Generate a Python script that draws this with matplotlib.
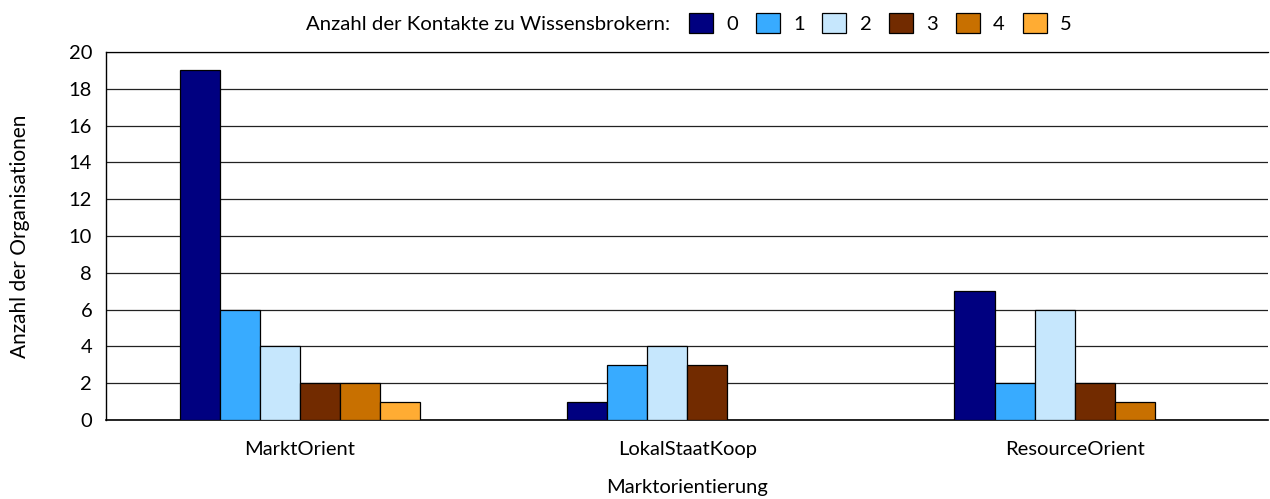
import numpy as np
import matplotlib.pyplot as plt
from matplotlib.patches import Patch

plt.rcParams['font.family'] = ['Lato', 'DejaVu Sans']

categories = ["MarktOrient", "LokalStaatKoop", "ResourceOrient"]
contact_levels = ["0", "1", "2", "3", "4", "5"]
counts = {
    "0": [19, 1, 7],
    "1": [6, 3, 2],
    "2": [4, 4, 6],
    "3": [2, 3, 2],
    "4": [2, 0, 1],
    "5": [1, 0, 0],
}
colors = ["#000080", "#38ABFF", "#C6E7FD", "#722B00", "#C87000", "#FFAC33"]

FS = 14.5

fig = plt.figure(figsize=(12.7, 4.99), dpi=100)
ax = fig.add_axes([0.0835, 0.1583, 0.9152, 0.7375])

x = np.arange(len(categories))
width = 0.1034
for i, level in enumerate(contact_levels):
    vals = np.array(counts[level])
    offs = x + (i - 2.5) * width
    mask = vals > 0
    ax.bar(offs[mask], vals[mask], width=width, color=colors[i],
           edgecolor="black", linewidth=0.9, zorder=3)

ax.set_xlim(-0.5, 2.5)
ax.set_ylim(0, 20)
ax.set_yticks(range(0, 21, 2))
ax.set_xticks(x)
ax.set_xticklabels(categories)
ax.tick_params(axis="both", length=0, labelsize=FS, colors="black")
ax.tick_params(axis="x", pad=15)
ax.tick_params(axis="y", pad=10)
ax.yaxis.grid(True, color="#222222", linewidth=0.9, zorder=0)

ax.spines["right"].set_visible(False)
ax.spines["top"].set_linewidth(0.9)
ax.spines["left"].set_linewidth(1.0)
ax.spines["bottom"].set_linewidth(1.2)

ax.set_ylabel("Anzahl der Organisationen", fontsize=15, labelpad=28)
ax.set_xlabel("Marktorientierung", fontsize=FS, labelpad=15)

# legend across the top with a leading caption
fig.text(306 / 1270, 1 - 24 / 499, "Anzahl der Kontakte zu Wissensbrokern:",
         fontsize=14.7, ha="left", va="center")
handles = [Patch(facecolor=c, edgecolor="black", linewidth=0.9) for c in colors]
fig.legend(handles, contact_levels, ncol=6, loc="center left",
           bbox_to_anchor=(689 / 1270, 1 - 23 / 499), frameon=False,
           fontsize=FS, borderpad=0, borderaxespad=0,
           handlelength=1.2, handleheight=1.2, handletextpad=0.65,
           columnspacing=0.88)

fig.savefig("out.png", dpi=100)
